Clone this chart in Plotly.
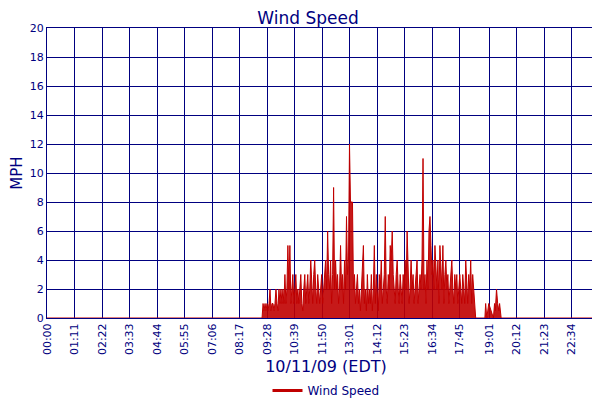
import plotly.graph_objects as go

start_min = 555
step_min = 2.564
active_vals = [
0,1,0.5,1,0.5,1,0.5,1,2,0.5,1,1,0.5,1,2,1,0.5,2,1,2,
1,2,1,3,1,2,5,2,5,1,2,3,1,2,3,1,2,1,2,3,
1,0.5,2,3,1,2,3,1,2,4,2,1,3,4,2,1,3,2,1,2,
3,1,2,3,4,2,6,3,2,4,1,3,9,2,4,2,3,1,2,5,
2,3,1,4,2,7,3,4,12,8,8,8,2,3,1,2,3,1,2,0.5,
2,3,5,1,2,0.5,3,1,2,1,3,0.5,2,5,1,3,2,0.5,3,2,
4,1,2,3,7,2,1,3,2,5,4,6,3,2,1,3,4,2,1,3,
2,1,3,2,4,2,6,3,1,2,4,2,3,1,2,3,4,1,2,3,
2,4,11,2,3,1,4,2,6,7,5,3,4,2,5,3,2,4,1,5,
3,2,5,1,3,4,2,3,1,2,3,4,2,1,3,2,3,1,2,3,
2,1,3,2,1,4,2,1,3,2,4,1,3,2,1,0]
late_min = [1130,1132,1135,1140,1152,1155,1157,1160,1163,1166,1168,1172]
late_val = [0,1,0,1,0,1,0.5,2,1,0.5,1,0]
end_min = [1428,1430,1432,1434,1436,1438]
end_val = [0,1,0,0,1,1]
tick_labels = ["00:00","01:11","02:22","03:33","04:44","05:55","07:06","08:17","09:28",
               "10:39","11:50","13:01","14:12","15:23","16:34","17:45","19:01","20:12",
               "21:23","22:34","23:45","23:59"]
tick_mins = [0,71,142,213,284,355,426,497,568,639,710,781,852,923,994,1065,1141,1212,1283,1354,1425,1435]

xs = [0] + [start_min + i*step_min for i in range(len(active_vals))] + late_min + end_min
ys = [0] + active_vals + late_val + end_val

navy = "#000080"
red = "#c00000"
fig = go.Figure()
fig.add_trace(go.Scatter(x=xs, y=ys, mode="lines", showlegend=False,
                         line=dict(color=red, width=1), fill="tozeroy",
                         fillcolor="rgba(192,0,0,0.9)"))
fig.add_trace(go.Scatter(x=[None], y=[None], mode="lines", name="Wind Speed",
                         line=dict(color=red, width=3)))
fig.update_layout(
    width=600, height=400, plot_bgcolor="white", paper_bgcolor="white",
    margin=dict(l=39, r=3, t=20, b=81),
    font=dict(family="DejaVu Sans", color=navy, size=11),
    title=dict(text="Wind Speed", x=0.5, y=0.99, yanchor="top", font=dict(size=17, color=navy)),
    showlegend=True,
    legend=dict(orientation="h", x=0.5, xanchor="center", y=-0.2, yanchor="top", font=dict(size=12)),
)
fig.update_xaxes(range=[0, 1440], tickvals=tick_mins, ticktext=tick_labels, tickangle=-90,
                 automargin=False,
                 showgrid=True, gridcolor=navy, gridwidth=1, showline=True, linecolor=navy,
                 mirror=True, tickfont=dict(size=11, color=navy),
                 title=dict(text="10/11/09 (EDT)", font=dict(size=16, color=navy), standoff=6))
fig.update_yaxes(range=[0, 20], dtick=2, showgrid=True, gridcolor=navy, gridwidth=1,
                 automargin=False,
                 showline=True, linecolor=navy, mirror=True, zeroline=False,
                 tickfont=dict(size=11, color=navy),
                 title=dict(text="MPH", font=dict(size=15, color=navy), standoff=4))
fig.write_html("out.html")
